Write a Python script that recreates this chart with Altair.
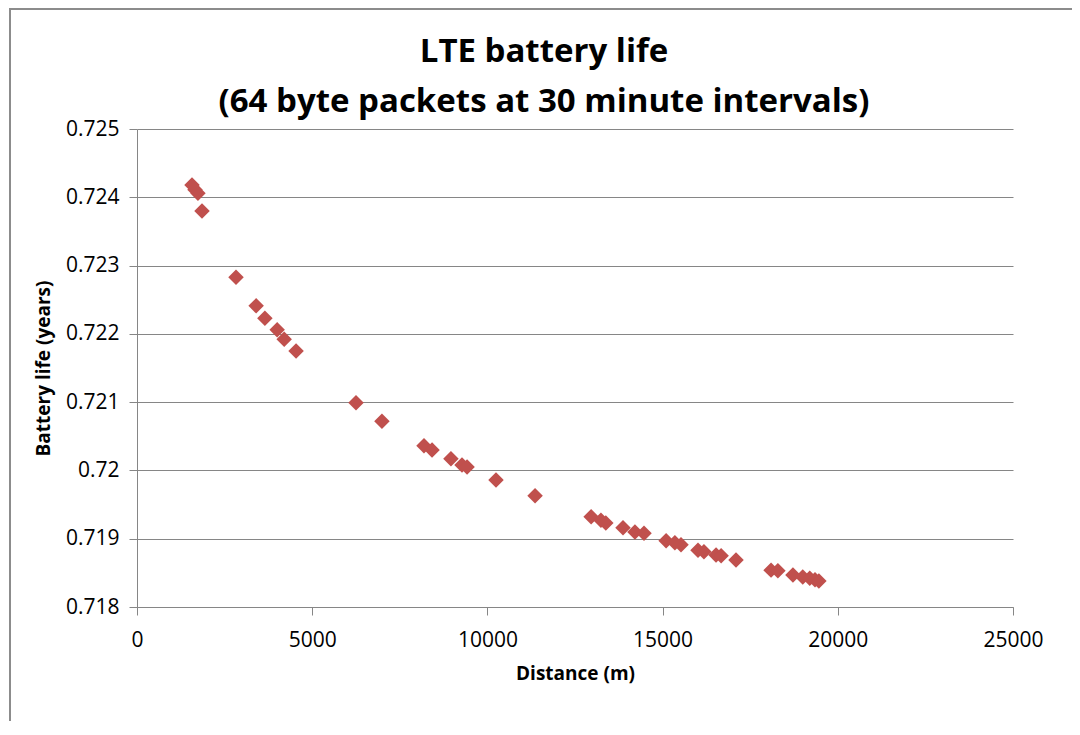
import altair as alt
import pandas as pd

distance_m = [1570, 1655, 1740, 1855, 2825, 3400, 3650, 4000, 4200, 4540,
              6250, 6990, 8190, 8420, 8960, 9275, 9420, 10245, 11360, 12960,
              13240, 13380, 13870, 14210, 14470, 15100, 15350, 15525, 16010, 16180,
              16525, 16670, 17095, 18095, 18290, 18720, 19000, 19200, 19350, 19460]
battery_years = [0.72418, 0.72411, 0.72406, 0.72380, 0.72283, 0.72241, 0.72223, 0.72206, 0.72192, 0.72175,
                 0.72099, 0.72072, 0.72036, 0.72030, 0.72017, 0.72008, 0.72005, 0.71986, 0.71963, 0.71932,
                 0.71927, 0.71923, 0.71916, 0.71910, 0.71908, 0.71897, 0.71894, 0.71891, 0.71883, 0.71881,
                 0.71876, 0.71875, 0.71869, 0.71854, 0.71853, 0.71847, 0.71844, 0.71842, 0.71840, 0.71838]

x_ticks = [0, 5000, 10000, 15000, 20000, 25000]
y_ticks = [0.718, 0.719, 0.72, 0.721, 0.722, 0.723, 0.724, 0.725]

title_lines = ["LTE battery life", "(64 byte packets at 30 minute intervals)"]

df = pd.DataFrame({"distance": distance_m, "life": battery_years})

W, H = 876, 478

points = alt.Chart(df).mark_point(
    shape="diamond", filled=True, size=240, color="#C0504D", opacity=1
).encode(
    x=alt.X("distance:Q",
            scale=alt.Scale(domain=[0, 25000], nice=False, zero=False),
            axis=alt.Axis(values=x_ticks, format="d", grid=False, labelFlush=False,
                          title="Distance (m)", titleX=W / 2, titleY=66,
                          titleBaseline="middle", titleAlign="center",
                          tickSize=8, labelPadding=14)),
    y=alt.Y("life:Q",
            scale=alt.Scale(domain=[0.718, 0.725], nice=False, zero=False),
            axis=alt.Axis(values=y_ticks, format="~g", grid=True,
                          title="Battery life (years)", titleX=-94, titleY=H / 2,
                          titleAngle=-90, titleBaseline="middle", titleAlign="center",
                          tickSize=8, labelPadding=10)),
)

frame = alt.Chart(pd.DataFrame({"k": [0]})).mark_rect(
    fill="transparent", stroke="#8c8c8c", strokeWidth=2
).encode(
    x=alt.value(-127), x2=alt.value(980),
    y=alt.value(-120), y2=alt.value(720),
)

chart = alt.layer(frame, points).properties(
    width=W, height=H,
    padding={"left": 129, "top": 121, "right": 59, "bottom": 114},
    autosize=alt.AutoSizeParams(type="none"),
    title=alt.Title(title_lines, font="Open Sans", fontSize=33, fontWeight="bold",
                    color="#000000", lineHeight=50, anchor="middle", frame="group",
                    dx=-31, offset=4, dy=115),
).configure_view(stroke=None).configure_axis(
    domainColor="#868686", tickColor="#868686", gridColor="#868686",
    labelFont="Open Sans", labelFontSize=21, labelColor="#000000",
    titleFont="Open Sans", titleFontSize=19, titleFontWeight="bold", titleColor="#000000",
)

chart.save("out.html", embed_options={"renderer": "svg", "actions": False})
